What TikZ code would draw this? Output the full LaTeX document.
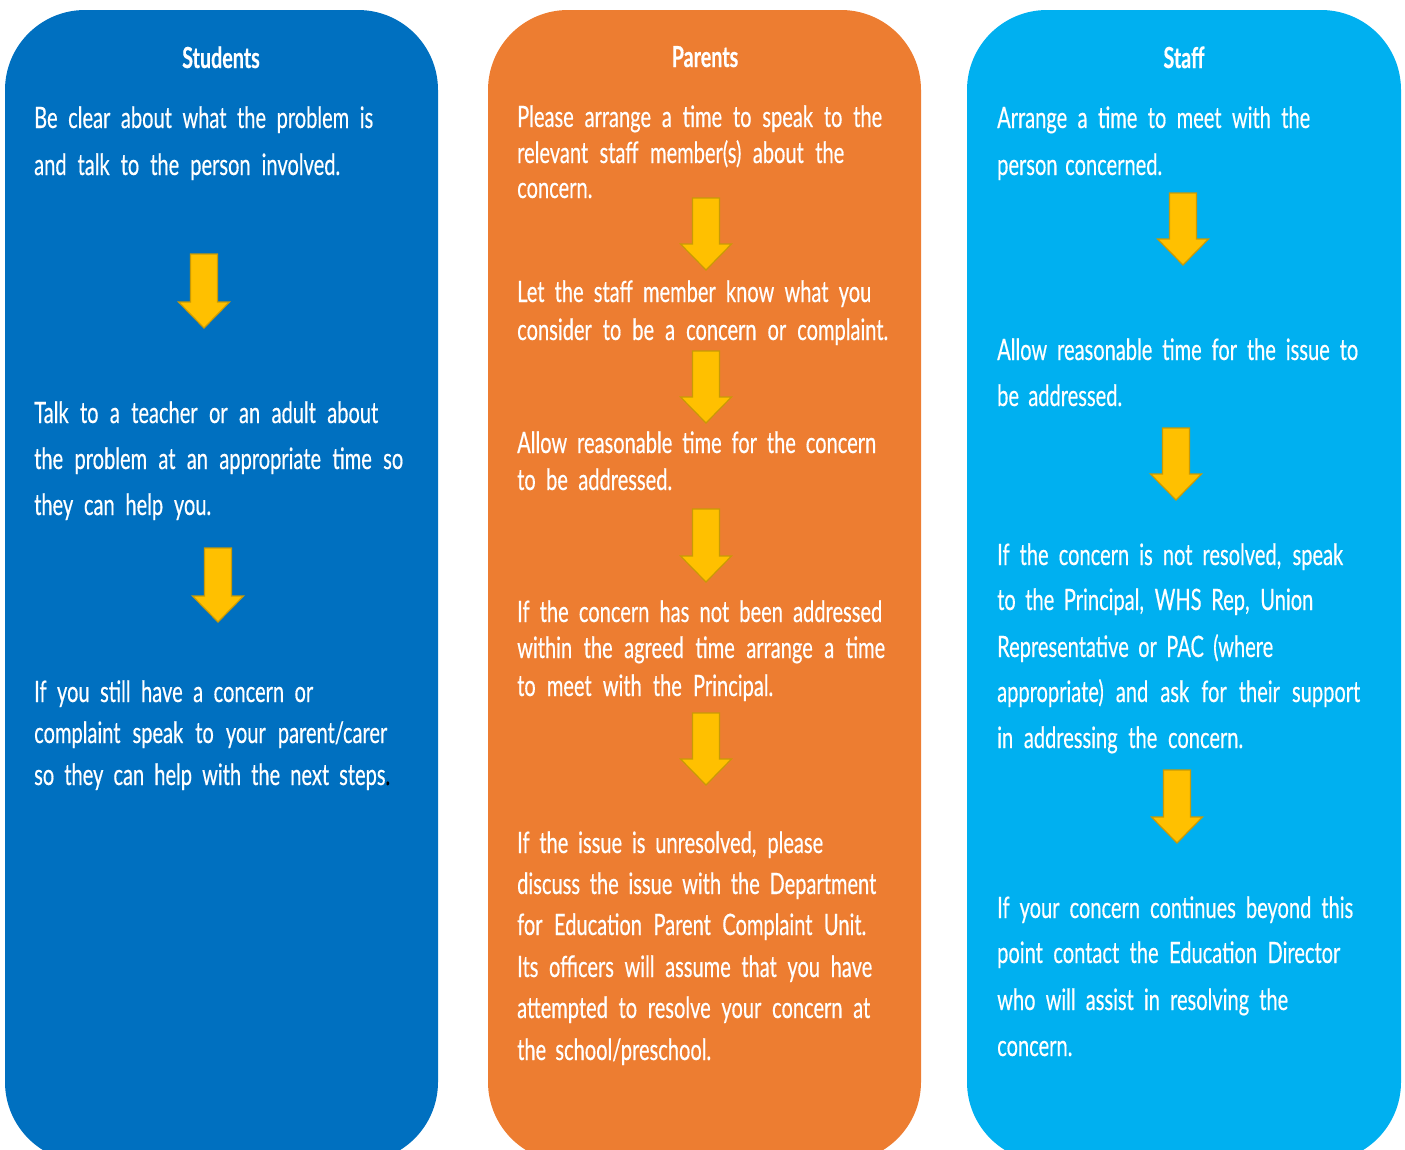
\documentclass[tikz,border=0pt]{standalone}
\usepackage{fontspec}
\setmainfont{Lato}[FakeStretch=0.68,FakeBold=0.4]
\definecolor{colS}{HTML}{0070C0}
\definecolor{colP}{HTML}{ED7D31}
\definecolor{colT}{HTML}{00B0F0}
\definecolor{arrF}{HTML}{FFC000}
\definecolor{arrD}{HTML}{C99A06}
\tikzset{
  txt/.style={anchor=base west, inner sep=0pt, text=white, font=\fontsize{29.5}{33}\selectfont},
  hdr/.style={anchor=base, inner sep=0pt, text=white, font=\fontsize{29}{33}\selectfont\bfseries},
  arrowsty/.style={fill=arrF, draw=arrD, line width=1.2pt, line join=miter},
  colbox/.style={rounded corners=80pt}
}
\newcommand\mytl[5]{\node[txt] (#1) at (#2,#3) {\makebox[\dimexpr#4pt-#2pt\relax][s]{#5}};}
\newcommand\myarr[3]{\draw[arrowsty] (#1-13.5,#2) -- (#1+13.5,#2) -- (#1+13.5,#3-26) -- (#1+25.5,#3-26) -- (#1,#3) -- (#1-25.5,#3-26) -- (#1-13.5,#3-26) -- cycle;}
\begin{document}
\begin{tikzpicture}[x=1pt,y=-1pt]
\useasboundingbox (0,0) rectangle (1405,1149);
\clip (0,0) rectangle (1405,1149);
\fill[colS, colbox] (5,10) rectangle (438,1162);
\fill[colP, colbox] (488,10) rectangle (921,1162);
\fill[colT, colbox] (967,10) rectangle (1401,1162);
% headers
\node[hdr] (hS) at (221,68) {Students};
\node[hdr] (hP) at (705,67) {Parents};
\node[hdr] (hT) at (1184,68) {Staff};
% Students
\mytl{s1}{34}{128}{373}{Be clear about what the problem is}
\mytl{s2}{34}{175}{340}{and talk to the person involved.}
\mytl{s3}{34}{423}{378}{Talk to a teacher or an adult about}
\mytl{s4}{34}{469}{403}{the problem at an appropriate time so}
\mytl{s5}{34}{515}{211}{they can help you.}
\mytl{s6}{34}{702}{313}{If you still have a concern or}
\mytl{s7}{34}{743}{387}{complaint speak to your parent/carer}
\mytl{s8}{34}{785}{390}{so they can help with the next steps\textcolor{black}{.}}
\myarr{204}{254}{328}
\myarr{218}{548}{622}
% Parents
\mytl{p1}{517}{127}{882}{Please arrange a time to speak to the}
\mytl{p2}{517}{163}{844}{relevant staff member(s) about the}
\mytl{p3}{517}{198}{590}{concern.}
\mytl{p4}{517}{302}{871}{Let the staff member know what you}
\mytl{p5}{517}{340}{888}{consider to be a concern or complaint.}
\mytl{p6}{517}{453}{876}{Allow reasonable time for the concern}
\mytl{p7}{517}{490}{672}{to be addressed.}
\mytl{p8}{517}{622}{882}{If the concern has not been addressed}
\mytl{p9}{517}{658}{885}{within the agreed time arrange a time}
\mytl{p10}{517}{696}{773}{to meet with the Principal.}
\mytl{p11}{517}{853}{823}{If the issue is unresolved, please}
\mytl{p12}{517}{894}{876}{discuss the issue with the Department}
\mytl{p13}{517}{935}{866}{for Education Parent Complaint Unit.}
\mytl{p14}{517}{977}{872}{Its officers will assume that you have}
\mytl{p15}{517}{1018}{870}{attempted to resolve your concern at}
\mytl{p16}{517}{1060}{711}{the school/preschool.}
\myarr{706}{198}{270}
\myarr{706}{351}{423}
\myarr{706}{509}{582}
\myarr{706}{713}{785}
% Staff
\mytl{t1}{997}{128}{1310}{Arrange a time to meet with the}
\mytl{t2}{997}{175}{1162}{person concerned.}
\mytl{t3}{997}{360}{1358}{Allow reasonable time for the issue to}
\mytl{t4}{997}{406}{1122}{be addressed.}
\mytl{t5}{997}{565}{1343}{If the concern is not resolved, speak}
\mytl{t6}{997}{610}{1313}{to the Principal, WHS Rep, Union}
\mytl{t7}{997}{657}{1273}{Representative or PAC (where}
\mytl{t8}{997}{702}{1360}{appropriate) and ask for their support}
\mytl{t9}{997}{748}{1243}{in addressing the concern.}
\mytl{t10}{997}{918}{1353}{If your concern continues beyond this}
\mytl{t11}{997}{963}{1340}{point contact the Education Director}
\mytl{t12}{997}{1010}{1288}{who will assist in resolving the}
\mytl{t13}{997}{1056}{1070}{concern.}
\myarr{1183}{193}{265}
\myarr{1176}{428}{500}
\myarr{1177}{770}{843}
\end{tikzpicture}
\end{document}
